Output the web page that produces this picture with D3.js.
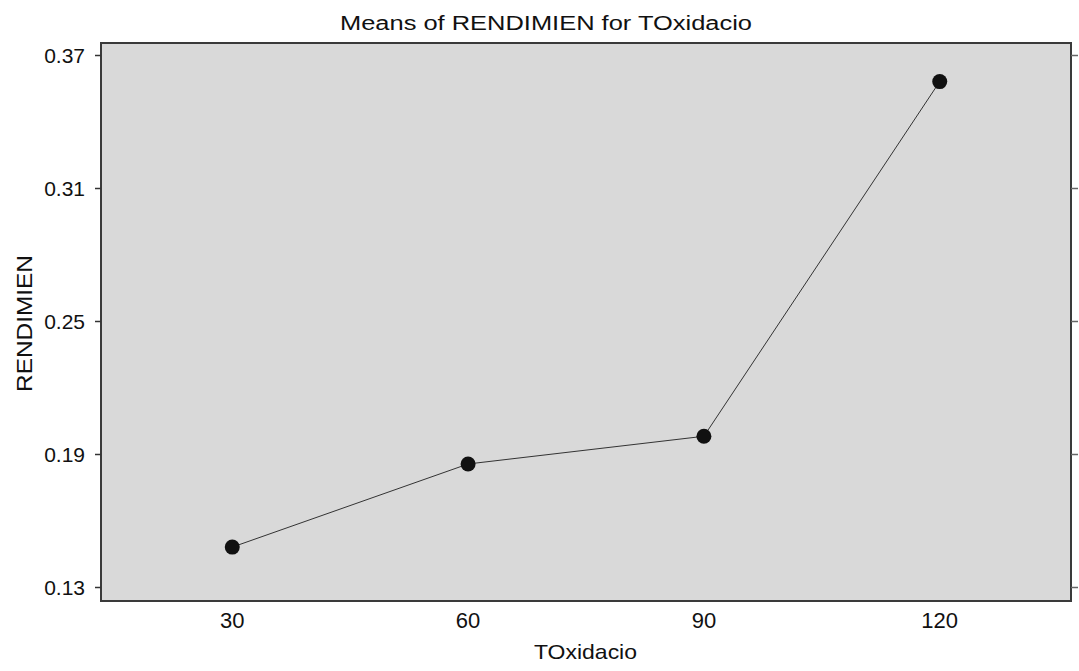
<!DOCTYPE html>
<html>
<head>
<meta charset="utf-8">
<script src="https://cdn.jsdelivr.net/npm/d3@7"></script>
<style>
  body { margin: 0; background: #fff; }
  text { font-family: "Liberation Sans", Arial, sans-serif; fill: #111; }
</style>
</head>
<body>
<div id="chart"></div>
<script>
var tOxidacio = [30, 60, 90, 120];
var rendimien = [0.148, 0.1855, 0.198, 0.358];
var yTicks = [0.13, 0.19, 0.25, 0.31, 0.37];

var width = 1079, height = 671;
var plotLeft = 101, plotRight = 1071, plotTop = 43, plotBottom = 601;

var svg = d3.select('#chart')
    .append('svg')
    .attr('width', width)
    .attr('height', height);

var x = d3.scaleLinear().domain([13.3, 136.7]).range([plotLeft, plotRight]);
var y = d3.scaleLinear().domain([0.13, 0.37]).range([587, 55]);

// plot frame
svg.append('rect')
    .attr('x', plotLeft)
    .attr('y', plotTop)
    .attr('width', plotRight - plotLeft)
    .attr('height', plotBottom - plotTop)
    .style('fill', '#d9d9d9')
    .style('stroke', '#3a3a3a')
    .style('stroke-width', 2);

// left axis
var yAxis = svg.append('g')
    .attr('transform', 'translate(' + plotLeft + ',0)')
    .call(d3.axisLeft(y).tickValues(yTicks).tickFormat(d3.format('.2f')).tickSize(6).tickSizeOuter(0));
yAxis.select('.domain').remove();
yAxis.selectAll('line').style('stroke', '#333').style('stroke-width', 1.5);
yAxis.selectAll('text')
    .attr('x', -16)
    .attr('dy', '0.36em')
    .style('font-size', '21px')
    .style('font-family', '"Liberation Sans", Arial, sans-serif')
    .style('fill', '#111');

// right axis ticks
var yAxisR = svg.append('g')
    .attr('transform', 'translate(' + plotRight + ',0)')
    .call(d3.axisRight(y).tickValues(yTicks).tickFormat('').tickSize(7).tickSizeOuter(0));
yAxisR.select('.domain').remove();
yAxisR.selectAll('line').style('stroke', '#666').style('stroke-width', 1.5);

// x labels
svg.selectAll('.x-label')
    .data(tOxidacio)
    .enter().append('text')
    .attr('class', 'x-label')
    .attr('x', function(d) { return x(d); })
    .attr('y', 628)
    .style('text-anchor', 'middle')
    .style('font-size', '22px')
    .text(function(d) { return d; });

// line
var line = d3.line()
    .x(function(d, i) { return x(tOxidacio[i]); })
    .y(function(d) { return y(d); });

svg.append('path')
    .datum(rendimien)
    .attr('d', line)
    .style('fill', 'none')
    .style('stroke', '#333')
    .style('stroke-width', 1);

svg.selectAll('.pt')
    .data(rendimien)
    .enter().append('circle')
    .attr('class', 'pt')
    .attr('cx', function(d, i) { return x(tOxidacio[i]); })
    .attr('cy', function(d) { return y(d); })
    .attr('r', 7.5)
    .style('fill', '#111');

// titles
svg.append('text')
    .attr('x', 340)
    .attr('y', 30)
    .attr('textLength', 412)
    .attr('lengthAdjust', 'spacingAndGlyphs')
    .style('font-size', '20px')
    .text('Means of RENDIMIEN for TOxidacio');

svg.append('text')
    .attr('x', 534)
    .attr('y', 659)
    .attr('textLength', 103)
    .attr('lengthAdjust', 'spacingAndGlyphs')
    .style('font-size', '21px')
    .text('TOxidacio');

svg.append('text')
    .attr('transform', 'translate(32,392) rotate(-90)')
    .attr('textLength', 137)
    .attr('lengthAdjust', 'spacingAndGlyphs')
    .style('font-size', '22px')
    .text('RENDIMIEN');
</script>
</body>
</html>
